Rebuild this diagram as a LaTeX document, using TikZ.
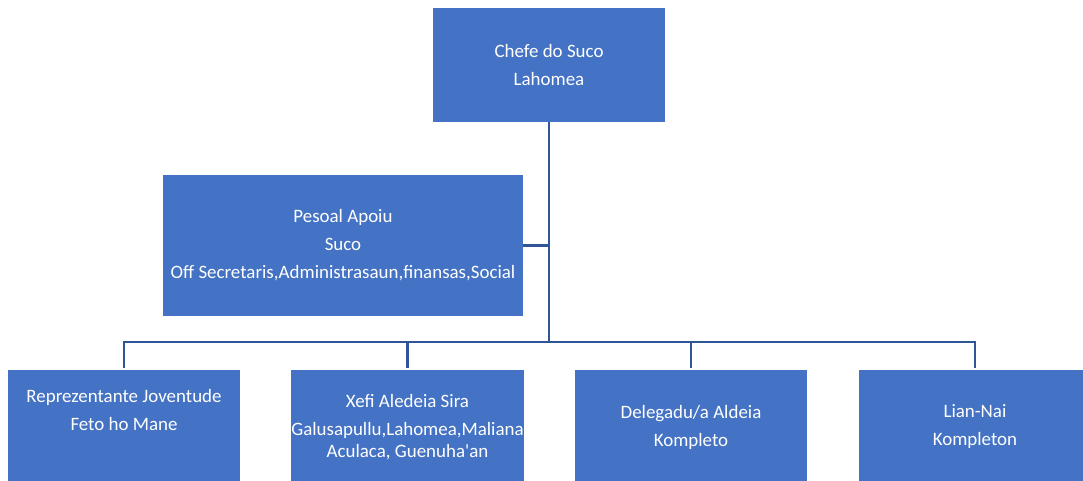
\documentclass[tikz,border=0pt]{standalone}
\usepackage{fontspec}
\setmainfont{Carlito}
\usetikzlibrary{positioning}

\definecolor{boxblue}{HTML}{4472C4}
\definecolor{lineblue}{HTML}{2F5597}

\tikzset{
  unit/.style={draw=none, fill=boxblue, text=white, align=center,
    minimum width=174pt, minimum height=85.5pt, inner sep=0pt,
    font=\fontsize{14.2}{16.5}\selectfont},
  link/.style={draw=lineblue, line width=2pt}
}

\begin{document}
\begin{tikzpicture}[x=0.75pt, y=-0.75pt]
\useasboundingbox (0,0) rectangle (1083,481);

\def\xa{124}
\def\xb{407.5}
\def\xc{691}
\def\xd{975}
\def\ytop{65}
\def\ymid{245.5}
\def\ylow{427}

\node[unit] (chefe) at (549, \ytop) {Chefe do Suco\\[4.5pt]Lahomea};
\node[unit, minimum width=270pt, minimum height=105.75pt] (apoiu) at (343, \ymid)
  {Pesoal Apoiu\\[4.5pt]Suco\\[4.5pt]Off Secretaris,Administrasaun,finansas,Social};

\node[unit] (joventude) at (\xa, \ylow) {Reprezentante Joventude\\[4.5pt]Feto ho Mane\\[4.5pt]\strut};
\node[unit] (xefi) at (\xb, \ylow) {Xefi Aledeia Sira\\[4.5pt]Galusapullu,Lahomea,Maliana\\Aculaca, Guenuha\textquotesingle an};
\node[unit] (delegadu) at (\xc, \ylow) {Delegadu/a Aldeia\\[4.5pt]Kompleto};
\node[unit] (liannai) at (\xd, \ylow) {Lian-Nai\\[4.5pt]Kompleton};

\coordinate (bar) at (549, 342);

\draw[link] (chefe.south) -- (bar);
\draw[link] (apoiu.east) -- (apoiu.east -| bar);
\draw[link] ([yshift=1.5pt]joventude.north) |- (bar);
\draw[link] ([yshift=1.5pt]xefi.north) |- (bar);
\draw[link] ([yshift=1.5pt]delegadu.north) |- (bar);
\draw[link] ([yshift=1.5pt]liannai.north) |- (bar);

\end{tikzpicture}
\end{document}
